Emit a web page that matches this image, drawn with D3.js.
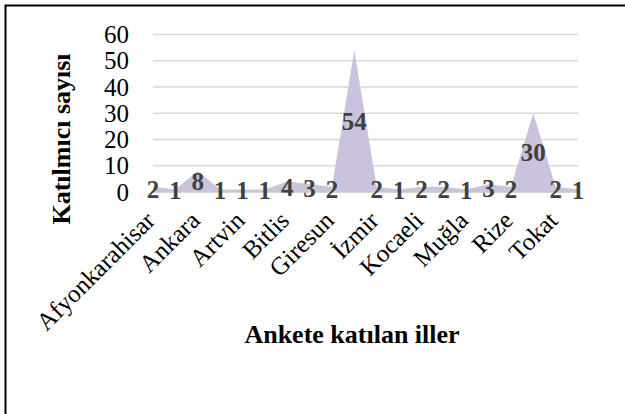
<!DOCTYPE html>
<html>
<head>
<meta charset="utf-8">
<script src="https://cdn.jsdelivr.net/npm/d3@7"></script>
<style>
  html, body { margin: 0; padding: 0; background: #fff; }
  svg { display: block; }
  svg text { font-family: "Liberation Serif", "Times New Roman", serif; }
</style>
</head>
<body>
<svg id="chart" width="625" height="414"></svg>
<script>
// Provinces of respondents (alphabetical) and participant counts
const provinces = ["Afyonkarahisar", "Amasya", "Ankara", "Antalya", "Artvin", "Aydın",
  "Bitlis", "Bolu", "Giresun", "İstanbul", "İzmir", "Kayseri", "Kocaeli", "Konya",
  "Muğla", "Ordu", "Rize", "Samsun", "Tokat", "Trabzon"];
const counts = [2, 1, 8, 1, 1, 1, 4, 3, 2, 54, 2, 1, 2, 2, 1, 3, 2, 30, 2, 1];
const yTicks = [0, 10, 20, 30, 40, 50, 60];
const yTitle = "Katılmıcı sayısı";
const xTitle = "Ankete katılan iller";

const svg = d3.select("#chart");
const serif = "Liberation Serif, Times New Roman, serif";

// outer frame
svg.append("rect")
  .attr("x", 5.5).attr("y", 5.5)
  .attr("width", 640).attr("height", 440)
  .attr("fill", "#fff").attr("stroke", "#000").attr("stroke-width", 2);

const plot = { left: 153, right: 578, top: 34.5, bottom: 192 };

const x = d3.scalePoint().domain(provinces).range([plot.left, plot.right]).padding(0);
const y = d3.scaleLinear().domain([0, 60]).range([plot.bottom, plot.top]);

// horizontal gridlines
svg.append("g")
  .selectAll("line")
  .data(yTicks.filter(d => d > 0))
  .join("line")
  .attr("x1", plot.left).attr("x2", plot.right)
  .attr("y1", d => y(d)).attr("y2", d => y(d))
  .attr("stroke", "#d9d9d9").attr("stroke-width", 1.5);

// area series
const area = d3.area()
  .x((d, i) => x(provinces[i]))
  .y0(y(0))
  .y1(d => y(d));

svg.append("path")
  .datum(counts)
  .attr("d", area)
  .attr("fill", "#cbc3de");

// category baseline
svg.append("line")
  .attr("x1", plot.left).attr("x2", plot.right)
  .attr("y1", y(0)).attr("y2", y(0))
  .attr("stroke", "#c8c8c8").attr("stroke-width", 1.5);

// y axis tick labels
const yAxis = d3.axisLeft(y).tickValues(yTicks).tickSize(0).tickPadding(24);
const gy = svg.append("g").attr("transform", `translate(${plot.left},0)`).call(yAxis);
gy.attr("font-family", null).attr("font-size", null);
gy.select(".domain").remove();
gy.selectAll("text")
  .style("font-family", serif).style("font-size", "25px").attr("fill", "#000");

// x axis category labels (every other province shown)
const xAxis = d3.axisBottom(x)
  .tickValues(provinces.filter((d, i) => i % 2 === 0))
  .tickSize(0);
const gx = svg.append("g").attr("transform", `translate(0,${plot.bottom})`).call(xAxis);
gx.attr("font-family", null).attr("font-size", null);
gx.select(".domain").remove();
gx.selectAll("text")
  .style("font-family", serif).style("font-size", "25px").attr("fill", "#000")
  .attr("text-anchor", "end")
  .attr("dy", null).attr("y", 0)
  .attr("transform", "translate(3,30) rotate(-45)");

// data labels at half height of each point
svg.append("g")
  .selectAll("text")
  .data(counts)
  .join("text")
  .attr("x", (d, i) => x(provinces[i]))
  .attr("y", d => y(d / 2))
  .attr("dy", "0.35em")
  .attr("text-anchor", "middle")
  .style("font-family", serif).style("font-weight", "bold")
  .style("font-size", "25px").attr("fill", "#404040")
  .text(d => d);

// axis titles
svg.append("text")
  .attr("x", 352).attr("y", 343)
  .attr("text-anchor", "middle")
  .style("font-family", serif).style("font-weight", "bold").style("font-size", "26px")
  .text(xTitle);

svg.append("text")
  .attr("transform", "translate(70,139) rotate(-90)")
  .attr("text-anchor", "middle")
  .style("font-family", serif).style("font-weight", "bold").style("font-size", "26px")
  .text(yTitle);
</script>
</body>
</html>
